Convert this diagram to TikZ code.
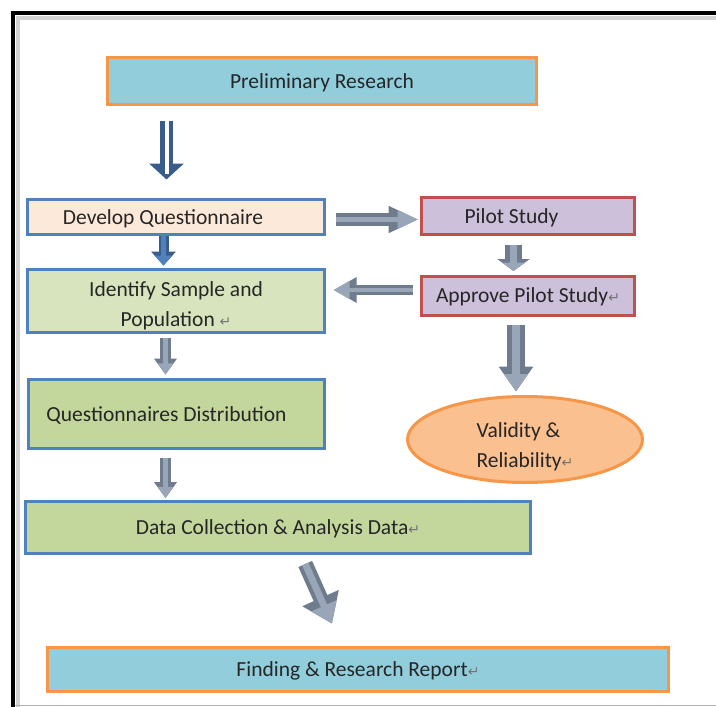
\documentclass[tikz,border=0pt]{standalone}
\usepackage{fontspec}
\setmainfont{Carlito}
\newfontfamily\symfont{DejaVu Sans}
\usetikzlibrary{shapes.geometric, arrows.meta}
\definecolor{aquafill}{HTML}{92CDDC}
\definecolor{orangeline}{HTML}{F79646}
\definecolor{peachfill}{HTML}{FDE9D9}
\definecolor{blueline}{HTML}{4F81BD}
\definecolor{bluedark}{HTML}{385D8A}
\definecolor{palegreen}{HTML}{D7E4BD}
\definecolor{greenfill}{HTML}{C3D69B}
\definecolor{lilacfill}{HTML}{CCC0DA}
\definecolor{redline}{HTML}{C0504D}
\definecolor{apricotfill}{HTML}{FAC090}
\definecolor{arrowedge}{HTML}{6E7C8E}
\definecolor{arrowfill}{HTML}{98A6B8}
\newcommand{\retmark}{{\symfont\color{black!55}\fontsize{14}{14}\selectfont ↵}}
\tikzset{
	flowchartbox/.style = {rectangle, line width=3pt, text centered, text depth=0pt, text=black!85, font=\fontsize{21.5}{30}\selectfont},
	research/.style = {flowchartbox, draw=orangeline, fill=aquafill, minimum height=47pt},
	develop/.style = {flowchartbox, draw=blueline, fill=peachfill, minimum width=297pt},
	sample/.style = {flowchartbox, draw=blueline, fill=palegreen, align=center, minimum width=297pt},
	collect/.style = {flowchartbox, draw=blueline, fill=greenfill},
	pilot/.style = {flowchartbox, draw=redline, fill=lilacfill, minimum width=213pt},
	validity/.style = {flowchartbox, ellipse, draw=orangeline, fill=apricotfill, align=left, inner sep=0pt, minimum width=235pt, minimum height=86pt},
	greyarrow/.style n args = {3}{preaction={draw=arrowedge, line width=#1, -{Triangle[width=#2, length=#3]}}, draw=arrowfill, line width=0.45*#1, -{Triangle[width=#2, length=#3, scale=0.7]}},
	bluearrow/.style n args = {3}{preaction={draw=bluedark, line width=#1, -{Triangle[width=#2, length=#3]}}, draw=blueline, line width=0.45*#1, -{Triangle[width=#2, length=#3, scale=0.7]}}
}

\begin{document}
\begin{tikzpicture}[x=1pt, y=-1pt, node distance=113pt]
		\useasboundingbox (0,0) rectangle (716,707);
		% frame
		\draw[black!18, line width=4pt] (716,18) -- (18,18) -- (18,707);
		\draw[line width=3.5pt] (716,13) -- (13,13) -- (13,707);
		\draw[black!30, line width=1pt] (15,705.5) -- (716,705.5);

		% boxes
		\node (prelim) [research, minimum width=429pt] at (322,81) {Preliminary Research};
		\node (dev) [develop, below of=prelim, xshift=-146pt, yshift=-23pt, minimum height=35pt] {Develop Questionnaire\hspace{26pt}\mbox{}};
		\node (ident) [sample, below of=dev, yshift=29pt, minimum height=63pt, inner ysep=2pt] {\rule{0pt}{21pt}Identify Sample and\\Population \retmark};
		\node (distr) [collect, below of=ident, xshift=0.5pt, minimum width=296pt, minimum height=69pt] {Questionnaires Distribution\hspace{20pt}\mbox{}};
		\node (data) [collect, below of=distr, xshift=101.5pt, minimum width=505pt, minimum height=52pt] {Data Collection \& Analysis Data\retmark};
		\node (report) [research, below of=data, xshift=80pt, yshift=-29.5pt, minimum width=621pt, minimum height=44pt] {Finding \& Research Report\retmark};
		\node (pilot) [pilot, right of=dev, xshift=239pt, yshift=1pt, minimum height=37pt] {Pilot Study\hspace{33pt}\mbox{}};
		\node (approve) [pilot, below of=pilot, yshift=33.5pt, minimum height=39pt] {Approve Pilot Study\retmark};
		\node (valid) [validity, below of=approve, xshift=-3pt, yshift=-31pt] {\rule{0pt}{26pt}Validity \&\\Reliability\retmark};

		% arrows
		\draw[draw=bluedark, line width=13pt, -{Triangle[width=34pt, length=16pt]}, shorten <=14.5pt, shorten >=18.5pt,
			postaction={draw=white, line width=4pt, -, shorten >=24pt}] ([xshift=-155.5pt]prelim.south) -- ([xshift=-9.5pt]dev.north);
		\draw[bluearrow={10pt}{24pt}{14pt}, shorten >=2.5pt] ([xshift=-12.5pt]dev.south) -- ([xshift=-12.5pt]ident.north);
		\draw[greyarrow={11pt}{22pt}{16pt}, shorten <=3.5pt, shorten >=3.5pt] ([xshift=-10.5pt]ident.south) -- ([xshift=-11pt]distr.north);
		\draw[greyarrow={11pt}{22pt}{16pt}, shorten <=7.5pt, shorten >=1.5pt] ([xshift=-11pt]distr.south) -- ([xshift=-112.5pt]data.north);
		\draw[greyarrow={15pt}{38pt}{28pt}, shorten <=10.4pt, shorten >=24.5pt] ([xshift=23pt]data.south) -- ([xshift=-16pt]report.north);
		\draw[greyarrow={13pt}{25pt}{30pt}, shorten <=9.5pt, shorten >=1.5pt] ([yshift=-2.5pt]dev.east) -- ([yshift=-3.5pt]pilot.west);
		\draw[greyarrow={17pt}{32pt}{12pt}, shorten <=8.5pt, shorten >=3.5pt] ([xshift=-14.5pt]pilot.south) -- ([xshift=-14.5pt]approve.north);
		\draw[greyarrow={10pt}{24pt}{23pt}, shorten <=7.5pt, shorten >=7.5pt] ([yshift=5.5pt]approve.west) -- ([yshift=11pt]ident.east);
		\draw[greyarrow={18pt}{33pt}{25pt}, shorten <=8.5pt, shorten >=3.5pt] ([xshift=-12pt]approve.south) -- ([xshift=-9pt]valid.north);
\end{tikzpicture}
\end{document}
